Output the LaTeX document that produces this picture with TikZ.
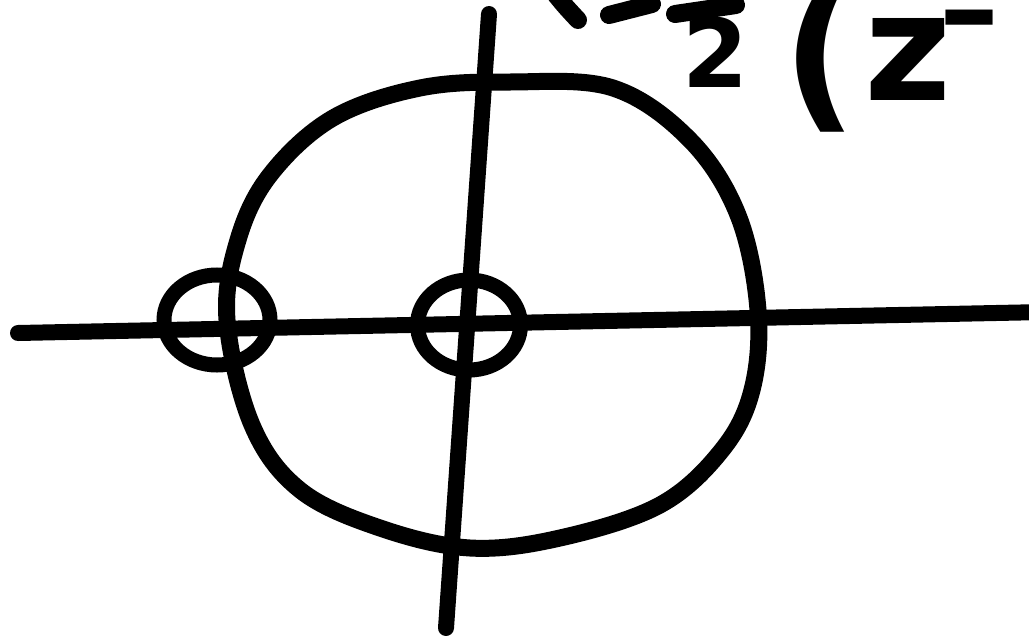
\documentclass[tikz,border=0pt]{standalone}
\usepackage{fontspec}
\newfontfamily\handfont{DejaVu Sans}
\usetikzlibrary{shapes.geometric}
\begin{document}
\begin{tikzpicture}[x=1pt,y=-1pt,
  marker/.style={line width=17pt, line cap=round, line join=round},
  axis/.style={line width=16pt, line cap=round},
  pen/.style={line width=18pt, line cap=round, line join=round},
  pole/.style={ellipse, draw, line width=15pt, inner sep=0pt, outer sep=0pt},
  handtext/.style={inner sep=0pt, outer sep=0pt}]
\useasboundingbox (0,0) rectangle (1029,640);
\clip (0,0) rectangle (1029,640);
% axes
\coordinate (hl) at (18,333);
\coordinate (hr) at (1045,312);
\coordinate (vt) at (489,14);
\coordinate (vb) at (446,628);
\draw[axis] (hl) -- (hr);
\draw[axis] (vt) -- (vb);
% big (unit) circle, hand drawn
\draw[marker] plot[smooth cycle, tension=0.6] coordinates
  {(227,320) (238,240) (270,175) (333,118) (420,88) (510,82)
   (613,88) (690,140) (738,215) (758,310) (752,390) (722,450)
   (660,505) (560,538) (470,548) (380,528) (300,490) (252,425)};
% poles
\node[pole, minimum width=106pt, minimum height=90pt] (pm1) at (217,320) {};
\node[pole, minimum width=103pt, minimum height=90pt] (p0) at (469,325) {};
% handwriting cut by the top edge
\coordinate (s1a) at (556,-5);
\coordinate (s1b) at (578,20);
\draw[pen] (s1a) .. controls (565,6) .. (s1b);
\coordinate (d1a) at (609,15);
\coordinate (d1b) at (652,4);
\draw[pen] (d1a) -- (d1b);
\coordinate (d2a) at (675,14);
\coordinate (d2b) at (736,5);
\draw[pen] (d2a) -- (d2b);
\node[handtext, font=\handfont\bfseries\fontsize{95}{95}\selectfont, anchor=base] (two) at (716,87) {2};
\node[handtext, font=\handfont\bfseries\fontsize{165}{165}\selectfont, anchor=base west] (paren) at (782,110) {(};
\node[handtext, font=\handfont\bfseries\fontsize{150}{150}\selectfont, anchor=base west] (zp) at (864,100)
  {z\kern-12pt\raisebox{50pt}{\fontsize{120}{120}\selectfont –}};
\end{tikzpicture}
\end{document}
